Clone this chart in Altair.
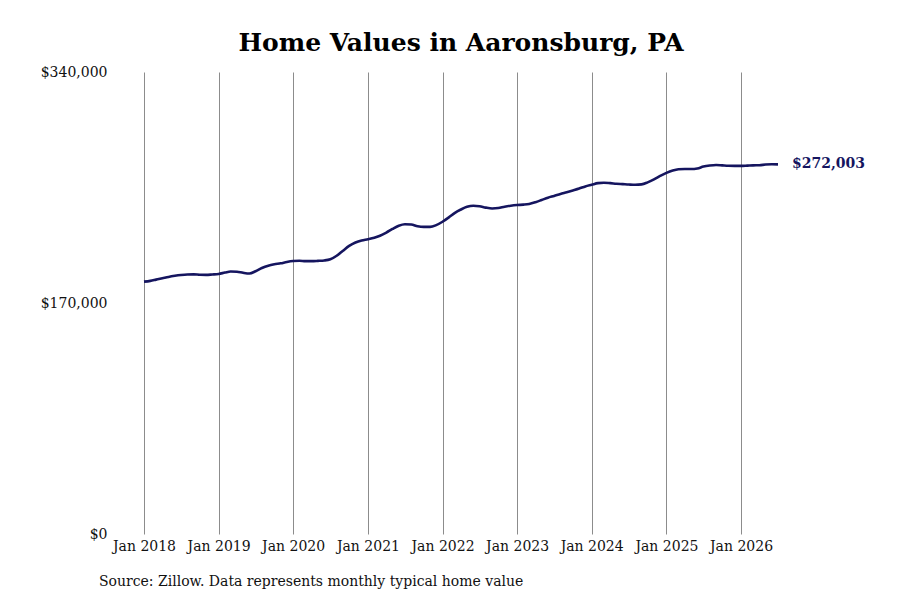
import pandas as pd
import altair as alt

# monthly typical home value (dollars)
values_2018 = [185700, 186300, 187200, 188200, 189200, 190000, 190600, 191000, 191100, 190800, 190700, 191000]
values_2019 = [191400, 192400, 193200, 193000, 192200, 191700, 193400, 195800, 197500, 198500, 199200, 200200]
values_2020 = [200900, 201100, 200800, 200800, 201000, 201300, 202200, 204800, 208500, 212000, 214500, 216000]
values_2021 = [216900, 218000, 219500, 221800, 224500, 226900, 228000, 227800, 226500, 226000, 226000, 227300]
values_2022 = [229800, 233000, 236200, 238800, 240800, 241600, 241200, 240200, 239600, 239900, 240900, 241600]
values_2023 = [242100, 242400, 242900, 244200, 245800, 247500, 248800, 250200, 251500, 252800, 254200, 255800]
values_2024 = [257000, 258200, 258500, 258200, 257800, 257500, 257200, 257000, 257300, 258800, 261000, 263500]
values_2025 = [265800, 267500, 268400, 268600, 268600, 269000, 270400, 271200, 271600, 271300, 271000, 270900]
values_2026 = [270900, 271100, 271300, 271400, 271900, 272100, 272003]

years = [2018, 2019, 2020, 2021, 2022, 2023, 2024, 2025, 2026]
y_ticks = [0, 170000, 340000]
title_text = "Home Values in Aaronsburg, PA"
source_text = "Source: Zillow. Data represents monthly typical home value"

monthly = (values_2018 + values_2019 + values_2020 + values_2021 + values_2022
           + values_2023 + values_2024 + values_2025 + values_2026)
dates = [f"{y}-{m:02d}-01" for y in years for m in range(1, 13)][:len(monthly)]
df = pd.DataFrame({"date": dates, "value": monthly})

NAVY = "#15155f"
FONT = "DejaVu Serif"
W, H = 634, 462

x_enc = alt.X(
    "date:T",
    title=None,
    scale=alt.Scale(type="utc", domain=[alt.DateTime(year=2018, month=1, date=1, utc=True),
                                        alt.DateTime(year=2026, month=7, date=1, utc=True)]),
    axis=alt.Axis(
        values=[alt.DateTime(year=y, month=1, date=1, utc=True) for y in years],
        labelExpr="utcFormat(datum.value, '%b %Y')",
        grid=True, gridColor="#8c8c8c", gridWidth=1,
        domain=False, ticks=False, labelPadding=5,
        labelOverlap=False, labelFlush=False, labelBound=False,
        labelFont=FONT, labelFontSize=14, labelColor="#111111",
    ),
)
y_enc = alt.Y(
    "value:Q",
    title=None,
    scale=alt.Scale(domain=[0, 340000], nice=False),
    axis=alt.Axis(
        values=y_ticks, format="$,.0f", grid=False, domain=False, ticks=False,
        labelPadding=37, labelFont=FONT, labelFontSize=14, labelColor="#111111",
    ),
)

base = alt.Chart(df)

line = base.mark_line(color=NAVY, strokeWidth=2.6, interpolate="monotone").encode(x=x_enc, y=y_enc)

end_label = base.transform_window(
    rank="row_number()", sort=[alt.SortField("date", order="descending")]
).transform_filter("datum.rank == 1").mark_text(
    align="left", baseline="middle", dx=14, font=FONT, fontSize=14,
    fontWeight="bold", color=NAVY,
).encode(x="date:T", y="value:Q", text=alt.Text("value:Q", format="$,.0f"))

source = alt.Chart(pd.DataFrame({"t": [source_text]})).mark_text(
    align="left", baseline="middle", font=FONT, fontSize=14, color="#111111",
).encode(text="t:N", x=alt.value(-45), y=alt.value(510))

chart = alt.layer(line, end_label, source).properties(
    width=W,
    height=H,
    background="white",
    title=alt.TitleParams(title_text, font=FONT, fontSize=25, fontWeight="bold",
                          anchor="middle", offset=9, color="black"),
    autosize=alt.AutoSizeParams(type="none"),
    padding={"left": 136, "top": 64, "right": 110, "bottom": 56},
).configure_view(strokeWidth=0, stroke="transparent")

chart.save("out.html", embed_options={"renderer": "svg", "actions": False})
